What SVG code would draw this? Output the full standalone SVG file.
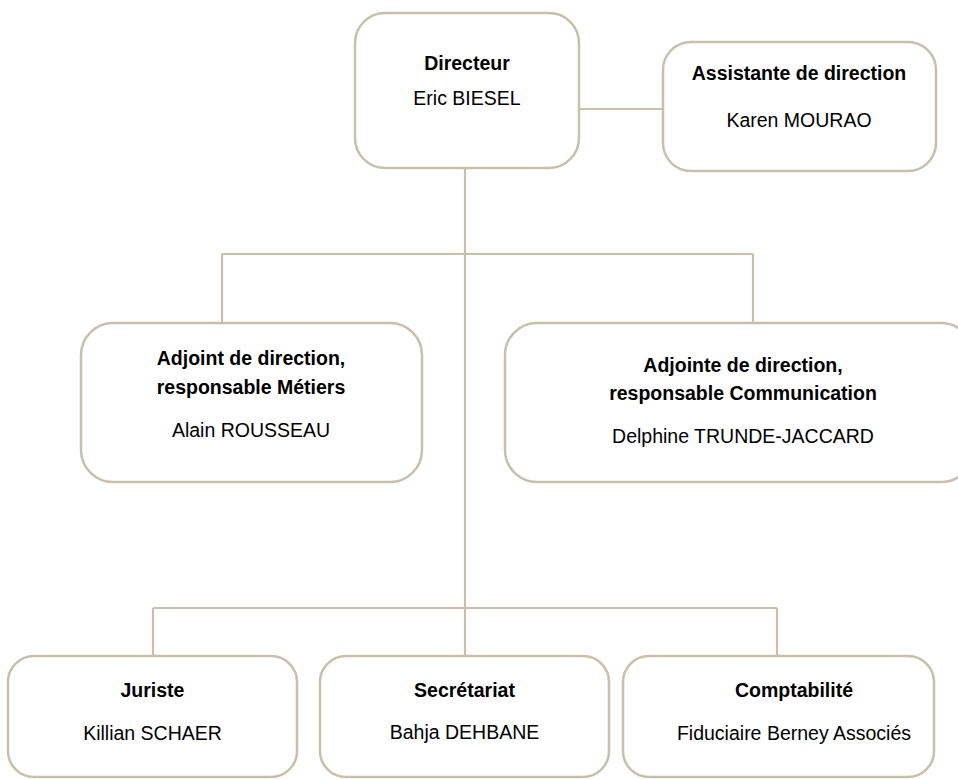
<svg xmlns="http://www.w3.org/2000/svg" width="958" height="779" viewBox="0 0 958 779">
  <style>
    .box { fill: #ffffff; stroke: #c9c0ab; stroke-width: 2.5; }
    .conn { fill: none; stroke: #c9c0ab; stroke-width: 2.2; }
    text { font-family: "Liberation Sans", Arial, sans-serif; font-size: 19.5px; fill: #000000; text-anchor: middle; }
    .t { font-weight: bold; }
  </style>
  <rect width="958" height="779" fill="#ffffff"/>
  <g id="connectors">
    <path class="conn" d="M579 109 H663"/>
    <path class="conn" d="M465 168 V656"/>
    <path class="conn" d="M222 254 H753 M222 254 V323 M753 254 V323"/>
    <path class="conn" d="M153 608 H777 M153 608 V656 M777 608 V656"/>
  </g>
  <g id="directeur">
    <rect class="box" x="355" y="13" width="224" height="155" rx="30" ry="30"/>
    <text class="t" x="467" y="70">Directeur</text>
    <text x="467" y="105">Eric BIESEL</text>
  </g>
  <g id="assistante">
    <rect class="box" x="663" y="42" width="273" height="129" rx="28" ry="28"/>
    <text class="t" x="799" y="80">Assistante de direction</text>
    <text x="799" y="127">Karen MOURAO</text>
  </g>
  <g id="adjoint">
    <rect class="box" x="81" y="323" width="341" height="159" rx="32" ry="32"/>
    <text class="t" x="251" y="365">Adjoint de direction,</text>
    <text class="t" x="251" y="394">responsable Métiers</text>
    <text x="251" y="437">Alain ROUSSEAU</text>
  </g>
  <g id="adjointe">
    <rect class="box" x="505" y="323" width="468" height="159" rx="32" ry="32"/>
    <text class="t" x="743" y="372">Adjointe de direction,</text>
    <text class="t" x="743" y="400">responsable Communication</text>
    <text x="743" y="443">Delphine TRUNDE-JACCARD</text>
  </g>
  <g id="juriste">
    <rect class="box" x="8" y="656" width="289" height="121" rx="26" ry="26"/>
    <text class="t" x="152.5" y="697">Juriste</text>
    <text x="152.5" y="740">Killian SCHAER</text>
  </g>
  <g id="secretariat">
    <rect class="box" x="320" y="656" width="289" height="121" rx="26" ry="26"/>
    <text class="t" x="464.5" y="697">Secrétariat</text>
    <text x="464.5" y="739">Bahja DEHBANE</text>
  </g>
  <g id="comptabilite">
    <rect class="box" x="623" y="656" width="311" height="121" rx="26" ry="26"/>
    <text class="t" x="794" y="697">Comptabilité</text>
    <text x="794" y="740">Fiduciaire Berney Associés</text>
  </g>
</svg>
